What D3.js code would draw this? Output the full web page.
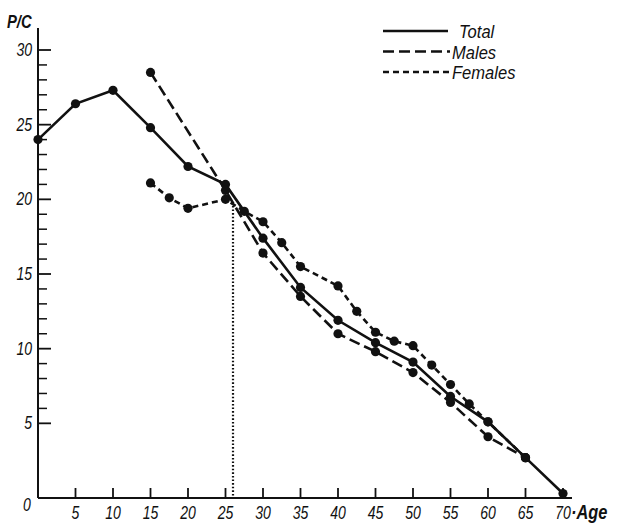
<!DOCTYPE html>
<html>
<head>
<meta charset="utf-8">
<script src="https://cdn.jsdelivr.net/npm/d3@7"></script>
<style>
  body { margin: 0; background: #fff; }
  text { font-family: "Liberation Sans", Arimo, sans-serif; font-style: italic; fill: #111; }
</style>
</head>
<body>
<div id="chart"></div>
<script>
// values
const totalAges   = [0, 5, 10, 15, 20, 25, 30, 35, 40, 45, 50, 55, 60, 65, 70];
const totalValues = [24.0, 26.4, 27.3, 24.8, 22.2, 21.0, 17.4, 14.1, 11.9, 10.4, 9.1, 6.8, 5.1, 2.7, 0.3];

const maleAges   = [15, 25, 30, 35, 40, 45, 50, 55, 60, 65];
const maleValues = [28.5, 20.6, 16.4, 13.5, 11.0, 9.8, 8.4, 6.4, 4.1, 2.7];

const femaleAges   = [15, 17.5, 20, 25, 27.5, 30, 32.5, 35, 40, 42.5, 45, 47.5, 50, 52.5, 55, 57.5, 60, 65];
const femaleValues = [21.1, 20.1, 19.4, 20.0, 19.2, 18.5, 17.1, 15.5, 14.2, 12.5, 11.1, 10.5, 10.2, 8.9, 7.6, 6.3, 5.1, 2.7];

const xTicks = [5, 10, 15, 20, 25, 30, 35, 40, 45, 50, 55, 60, 65, 70];
const yMajor = [5, 10, 15, 20, 25, 30];
const yMinor = [6, 7, 8, 9, 11, 12, 13, 14, 16, 17, 18, 19, 21, 22, 23, 24, 26, 27, 28, 29];

const markerAge = 26;     // dotted vertical
const markerTop = 19.8;

const legendNames = ["Total", "Males", "Females"];

const width = 619, height = 526;
const svg = d3.select("#chart").append("svg")
    .attr("width", width)
    .attr("height", height);

const x = d3.scaleLinear().domain([0, 70]).range([38, 563]);
const y = d3.scaleLinear().domain([0, 30]).range([498, 50]);

// narrow italic text, like the print
function label(g, tx, ty, str, size, anchor, bold, sx) {
    return g.append("text")
        .attr("transform", "translate(" + tx + "," + ty + ") scale(" + (sx || 0.78) + ",1)")
        .attr("text-anchor", anchor || "start")
        .style("font-size", size + "px")
        .style("font-weight", bold ? "bold" : "normal")
        .text(str);
}

// axes
svg.append("line")
    .attr("x1", x(0)).attr("x2", x(0))
    .attr("y1", y(0)).attr("y2", 28)
    .attr("stroke", "#111").attr("stroke-width", 2);
svg.append("line")
    .attr("x1", x(0)).attr("x2", 572)
    .attr("y1", y(0)).attr("y2", y(0))
    .attr("stroke", "#111").attr("stroke-width", 2);

// y ticks
svg.append("g").selectAll("line")
    .data(yMajor)
    .join("line")
        .attr("x1", x(0)).attr("x2", x(0) + 13)
        .attr("y1", d => y(d)).attr("y2", d => y(d))
        .attr("stroke", "#111").attr("stroke-width", 1.8);
svg.append("g").selectAll("line")
    .data(yMinor)
    .join("line")
        .attr("x1", x(0)).attr("x2", x(0) + 9)
        .attr("y1", d => y(d)).attr("y2", d => y(d))
        .attr("stroke", "#111").attr("stroke-width", 1.5);
const yLab = svg.append("g");
yMajor.forEach(d => label(yLab, 32, y(d) + 6, d, 18, "end"));
label(svg, 27, 511, "0", 18, "middle");

// x ticks
svg.append("g").selectAll("line")
    .data(xTicks)
    .join("line")
        .attr("x1", d => x(d)).attr("x2", d => x(d))
        .attr("y1", y(0)).attr("y2", y(0) - 10)
        .attr("stroke", "#111").attr("stroke-width", 1.8);
const xLab = svg.append("g");
xTicks.forEach(d => label(xLab, x(d), 519, d, 18, "middle"));
label(svg, 571, 519, "·Age", 21, "start", true);
label(svg, 7, 28, "P/C", 19, "start", true);

// dotted marker
svg.append("line")
    .attr("x1", x(markerAge)).attr("x2", x(markerAge))
    .attr("y1", y(markerTop)).attr("y2", y(0))
    .attr("stroke", "#111").attr("stroke-width", 2.2)
    .attr("stroke-dasharray", "1.6,2");

// series
const series = [
    {ages: totalAges,  vals: totalValues,  dash: null,  w: 2.6},
    {ages: maleAges,   vals: maleValues,   dash: "11,5", w: 2.6},
    {ages: femaleAges, vals: femaleValues, dash: "6,4",  w: 2.6}
];
const line = d3.line().x(d => x(d[0])).y(d => y(d[1]));

series.forEach(function(s) {
    const pts = s.ages.map((a, i) => [a, s.vals[i]]);
    svg.append("path")
        .datum(pts)
        .attr("d", line)
        .attr("fill", "none")
        .attr("stroke", "#111")
        .attr("stroke-width", s.w)
        .attr("stroke-dasharray", s.dash);
    svg.append("g").selectAll("circle")
        .data(pts)
        .join("circle")
            .attr("cx", d => x(d[0]))
            .attr("cy", d => y(d[1]))
            .attr("r", 4.6)
            .attr("fill", "#111");
});

// legend
const legend = svg.append("g");
legendNames.forEach(function(name, i) {
    const ly = 31 + i * 20.5;
    legend.append("line")
        .attr("x1", 383).attr("x2", i == 0 ? 448 : 450)
        .attr("y1", ly).attr("y2", ly)
        .attr("stroke", "#111")
        .attr("stroke-width", 2.4)
        .attr("stroke-dasharray", series[i].dash);
    label(legend, i == 0 ? 459 : 452, ly + 7, name, 18, "start", false, 0.92);
});
</script>
</body>
</html>
